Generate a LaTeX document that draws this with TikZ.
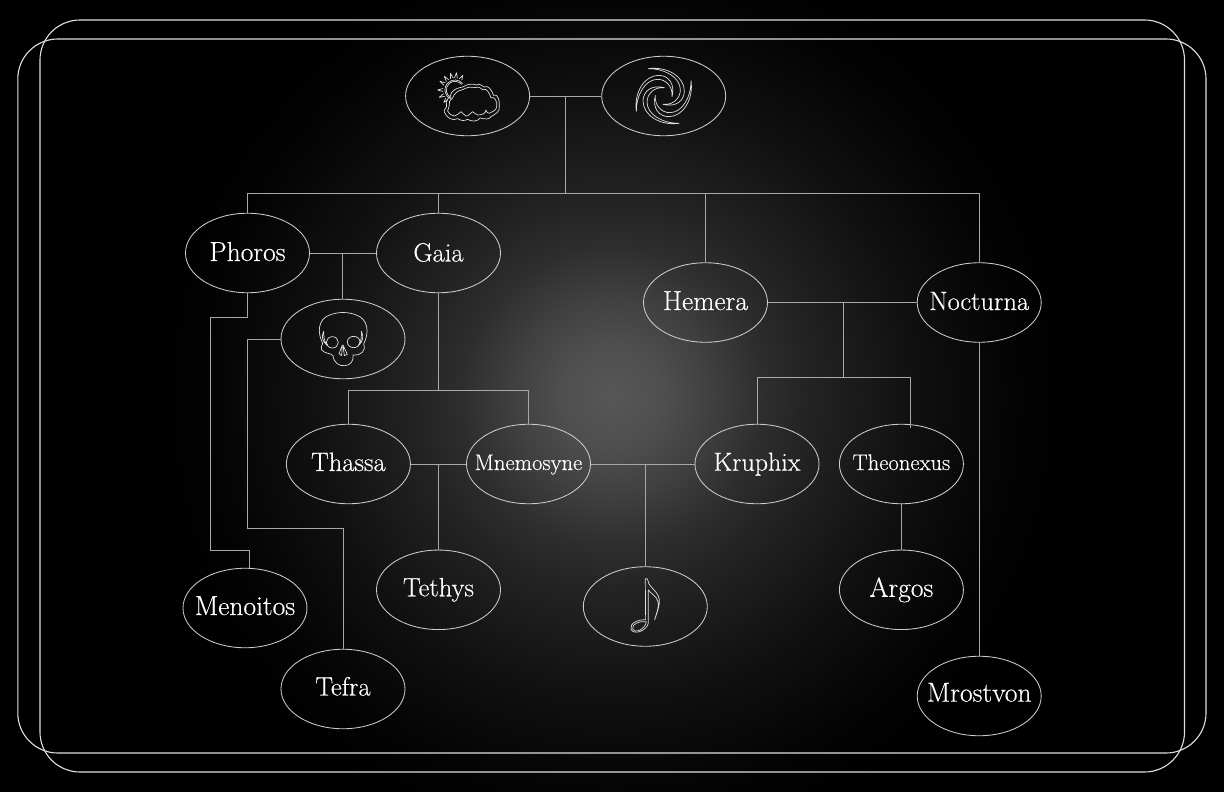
\documentclass[tikz,border=0pt]{standalone}
\usepackage{fontspec}
\newfontfamily\namefont[FakeBold=0.35]{Latin Modern Roman}
\usetikzlibrary{shapes.geometric,calc}
\pgfdeclareradialshading{glow}{\pgfpointorigin}{
 rgb(0bp)=(0.34,0.34,0.34);
 rgb(2.6bp)=(0.31,0.31,0.31);
 rgb(5.2bp)=(0.25,0.25,0.25);
 rgb(7.8bp)=(0.18,0.18,0.18);
 rgb(10.4bp)=(0.135,0.135,0.135);
 rgb(13bp)=(0.1,0.1,0.1);
 rgb(15.6bp)=(0.065,0.065,0.065);
 rgb(20.8bp)=(0.015,0.015,0.015);
 rgb(24bp)=(0,0,0);
 rgb(100bp)=(0,0,0)}
\definecolor{edgeline}{gray}{0.66}
\definecolor{ringline}{gray}{0.8}
\definecolor{iconline}{gray}{0.88}
\newcommand\nm[2][7.5]{\makebox[0pt]{\smash{\raisebox{-#1pt}{#2}}}}
\tikzset{
 person/.style={draw=ringline,line width=0.85pt,ellipse,inner sep=0pt,minimum width=124pt,minimum height=79.5pt,text=white,font=\namefont\fontsize{26.5}{26.5}\selectfont},
 small/.style={font=\namefont\fontsize{22.6}{22.6}\selectfont},
 large/.style={font=\namefont\fontsize{27.5}{27.5}\selectfont},
 link/.style={draw=edgeline,line width=1pt},
 frameline/.style={draw=white!88!black,line width=1.1pt,rounded corners=40pt},
 icon/.style={draw=iconline,line width=0.7pt,line join=round},
 iconscale/.style={x=0.3333pt,y=-0.3333pt}
}
\begin{document}
\begin{tikzpicture}[x=1pt,y=-1pt]
\useasboundingbox (0,0) rectangle (1224,792);
\fill[black] (0,0) rectangle (1224,792);
\shade[shading=glow] (612,396) circle (480);
\draw[frameline] (40,20) rectangle (1184.5,772);
\draw[frameline] (17.8,39) rectangle (1206,753);

\node[person] (cloud) at (467.6,96) {};
\node[person] (galaxy) at (663.7,96) {};
\node[person,large] (phoros) at (247.5,253) {\nm[8]{Phoros}};
\node[person] (gaia) at (438.5,253) {\nm[8.5]{Gaia}};
\node[person] (skull) at (343,339) {};
\node[person,large] (hemera) at (705.5,302.5) {\nm[7.5]{Hemera}};
\node[person] (nocturna) at (979.2,302.5) {\nm[7.5]{Nocturna}};
\node[person] (thassa) at (348.4,464) {\nm[7]{Thassa}};
\node[person,small] (mnemosyne) at (528.5,464) {\nm[6]{Mnemosyne}};
\node[person,font=\namefont\fontsize{26}{26}\selectfont] (kruphix) at (757,464) {\nm[6.7]{Kruphix}};
\node[person,small] (theonexus) at (901.4,464) {\nm[6]{Theonexus}};
\node[person] (tethys) at (438.5,589.8) {\nm[6.5]{Tethys}};
\node[person,large] (argos) at (901.4,589.8) {\nm[7]{Argos}};
\node[person] (note) at (645.3,606.5) {};
\node[person,large] (menoitos) at (245,608) {\nm[7]{Menoitos}};
\node[person] (tefra) at (343,689) {\nm[6.5]{Tefra}};
\node[person,large] (mrostvon) at (979.2,696) {\nm[5.7]{Mrostvon}};

% top generation
\coordinate (topmid) at (565.5,96);
\coordinate (bar1) at (565.5,193);
\draw[link] (cloud.east) -- (galaxy.west);
\draw[link] (topmid) -- (bar1);
\draw[link] (phoros.north) -- (phoros.north |- bar1) -- (nocturna.north |- bar1) -- (nocturna.north);
\draw[link] (gaia.north) -- (gaia.north |- bar1);
\draw[link] (hemera.north) -- (hemera.north |- bar1);

% Phoros + Gaia
\coordinate (pg) at (342.5,253);
\draw[link] (phoros.east) -- (gaia.west);
\draw[link] (pg) -- (pg |- skull.north);
\coordinate (ph1) at (247.5,317.5);
\coordinate (ph2) at (210.5,317.5);
\coordinate (ph3) at (210.5,550.5);
\coordinate (ph4) at (249,550.5);
\draw[link] (phoros.south) -- (ph1) -- (ph2) -- (ph3) -- (ph4) -- (ph4 |- menoitos.north);
\coordinate (sk1) at (247.5,339);
\coordinate (sk2) at (247.5,528.5);
\coordinate (sk3) at (343,528.5);
\draw[link] (skull.west) -- (sk1) -- (sk2) -- (sk3) -- (tefra.north);

% Gaia children
\coordinate (bar2) at (438.5,390.5);
\draw[link] (gaia.south) -- (bar2);
\draw[link] (thassa.north) -- (thassa.north |- bar2) -- (mnemosyne.north |- bar2) -- (mnemosyne.north);
\coordinate (tm) at (438.5,464);
\draw[link] (thassa.east) -- (mnemosyne.west);
\draw[link] (tm) -- (tethys.north);

% Mnemosyne + Kruphix
\coordinate (mk) at (645.3,464);
\draw[link] (mnemosyne.east) -- (kruphix.west);
\draw[link] (mk) -- (note.north);

% Hemera + Nocturna
\coordinate (hn) at (843,302.5);
\coordinate (bar3) at (843,377.5);
\coordinate (thdrop) at (910.5,428);
\draw[link] (hemera.east) -- (nocturna.west);
\draw[link] (hn) -- (bar3);
\draw[link] (kruphix.north) -- (kruphix.north |- bar3) -- (thdrop |- bar3) -- (thdrop);
\draw[link] (theonexus.south) -- (argos.north);
\draw[link] (nocturna.south) -- (mrostvon.north);

% cloud + sun icon
\begin{scope}[shift={(cloud.center)},iconscale,icon]
 \foreach \a/\r in {62/50,85/52,105/52,128/52,150/52,180/52,205/52,228/50}{
  \draw ($(-38,-18)+(-\a+7:36)$) -- ($(-38,-18)+(-\a:\r)$) -- ($(-38,-18)+(-\a-7:36)$);
 }
 \draw ($(-38,-18)+(-40:30)$) arc[start angle=-40,end angle=-245,radius=30];
 \draw ($(-38,-18)+(-40:26)$) arc[start angle=-40,end angle=-245,radius=26];
 % outer cloud
 \draw (-63,27) to[out=110,in=225] (-52,0) to[out=80,in=190] (-15,-27) to[out=30,in=160] (27,-33) to[out=40,in=150] (50,-27) to[out=30,in=110] (78,-2) to[out=30,in=80] (95,32) to[out=-80,in=30] (70,62) to[out=-120,in=-10] (38,66) to[out=-130,in=-30] (0,70) to[out=-150,in=-30] (-30,68) to[out=-150,in=-70] (-70,48) to[out=110,in=-70] (-63,27);
 % inner cloud
 \draw (-55,28) to[out=110,in=215] (-45,6) to[out=70,in=190] (-15,-19) to[out=30,in=170] (25,-25) to[out=40,in=150] (46,-19) to[out=30,in=110] (70,5) to[out=30,in=70] (87,32) to[out=-90,in=30] (65,52) to[out=160,in=-90] (55,42) to[out=-90,in=0] (30,57) to[out=170,in=-20] (15,47) to[out=-160,in=-10] (-5,60) to[out=170,in=-20] (-20,47) to[out=-150,in=0] (-40,60) to[out=170,in=-70] (-60,45) to[out=100,in=-70] (-55,28);
\end{scope}

% galaxy icon
\foreach \i in {0,1,2,3}{
\begin{scope}[shift={(galaxy.center)},rotate=-90*\i,iconscale,icon]
 \draw (-46,-82) .. controls (10,-90) and (62,-58) .. (62,-15) .. controls (62,15) and (35,35) .. (-2,25)
   .. controls (30,28) and (50,5) .. (50,-18) .. controls (50,-55) and (5,-82) .. (-46,-82) -- cycle;
\end{scope}}

% skull icon
\begin{scope}[shift={(skull.center)},iconscale,icon]
 \draw (-61,13) .. controls (-78,-20) and (-75,-60) .. (-40,-72) .. controls (-15,-82) and (15,-82) .. (40,-72)
  .. controls (75,-60) and (80,-20) .. (62,15) .. controls (70,35) and (55,50) .. (30,48)
  .. controls (33,65) and (22,80) .. (5,80) .. controls (-10,82) and (-28,72) .. (-30,50)
  .. controls (-35,42) and (-55,45) .. (-65,32) .. controls (-65,25) and (-65,20) .. (-61,13) -- cycle;
 \draw (-32,10) ellipse[x radius=18,y radius=17];
 \draw (32,9) ellipse[x radius=19,y radius=17];
 \draw (-2,18) -- (-12,44) -- (-4,50) -- cycle;
 \draw (0,18) -- (13,46) -- (4,50) -- cycle;
 \draw (-58,-23) .. controls (-66,-8) and (-62,8) .. (-47,20) .. controls (-58,5) and (-58,-10) .. (-58,-23) -- cycle;
 \draw (55,-23) .. controls (63,-8) and (60,8) .. (46,20) .. controls (56,5) and (56,-10) .. (55,-23) -- cycle;
\end{scope}

% note icon
\begin{scope}[shift={(note.center)},iconscale,icon]
 \draw (0,-83) .. controls (4,-85) and (8,-83) .. (8,-78) .. controls (10,-55) and (46,-45) .. (42,-10) .. controls (40,5) and (35,20) .. (28,40)
  .. controls (35,15) and (42,0) .. (38,-15) .. controls (35,-30) and (15,-40) .. (9,-50)
  -- (9,50) .. controls (5,72) and (-35,88) .. (-43,68) .. controls (-48,50) and (-20,38) .. (1,40) -- cycle;
 \draw (3,46) .. controls (-15,42) and (-42,52) .. (-38,68) .. controls (-32,82) and (0,68) .. (3,46) -- cycle;
\end{scope}
\end{tikzpicture}
\end{document}
